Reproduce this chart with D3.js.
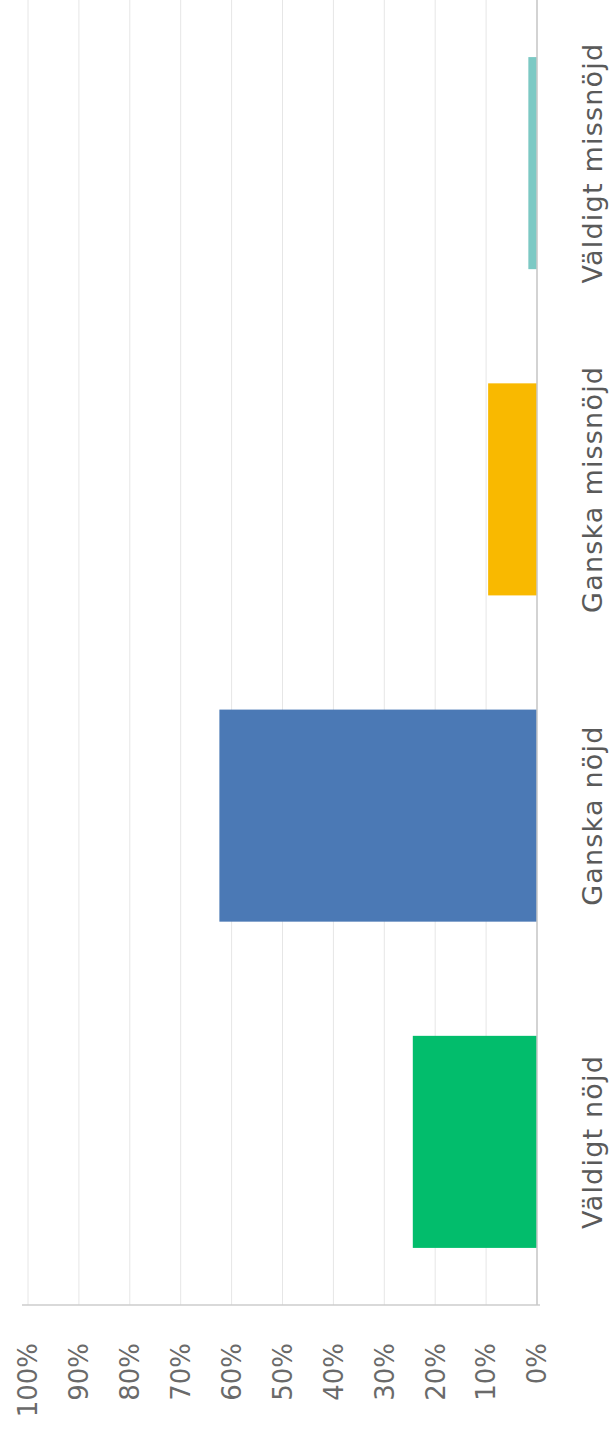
<!DOCTYPE html>
<html>
<head>
<meta charset="utf-8">
<script src="https://cdn.jsdelivr.net/npm/d3@7"></script>
<style>
  html, body { margin: 0; padding: 0; background: #fff; }
  svg { display: block; }
</style>
</head>
<body>
<script>
const categories = ["Väldigt nöjd", "Ganska nöjd", "Ganska missnöjd", "Väldigt missnöjd"];
const values = [24.4, 62.4, 9.6, 1.7];
const colors = ["#02bd6c", "#4b79b5", "#f9b900", "#7cc9c4"];
const tickValues = [0, 10, 20, 30, 40, 50, 60, 70, 80, 90, 100];
const tickLabels = ["0%", "10%", "20%", "30%", "40%", "50%", "60%", "70%", "80%", "90%", "100%"];

const W = 610, H = 1436;
// chart is drawn in its natural (unrotated) frame: width H, height W
const svg = d3.select("body").append("svg").attr("width", W).attr("height", H);
const g = svg.append("g").attr("transform", `translate(0,${H}) rotate(-90)`);

const plotLeft = 131, plotRight = H, plotTop = 28, plotBottom = 537;

const x = d3.scaleBand().domain(categories).range([plotLeft, plotRight])
  .paddingInner(0.35).paddingOuter(0.175);
const y = d3.scaleLinear().domain([0, 100]).range([plotBottom, plotTop]);

// gridlines
g.append("g").selectAll("line").data(tickValues).join("line")
  .attr("x1", plotLeft).attr("x2", plotRight)
  .attr("y1", d => y(d)).attr("y2", d => y(d))
  .attr("stroke", "#e6e6e6").attr("stroke-width", 1);

// bars
g.append("g").selectAll("rect").data(categories).join("rect")
  .attr("x", d => x(d))
  .attr("width", x.bandwidth())
  .attr("y", (d, i) => y(values[i]))
  .attr("height", (d, i) => y(0) - y(values[i]))
  .attr("fill", (d, i) => colors[i]);

// value axis line (left in natural frame)
g.append("line").attr("x1", plotLeft).attr("x2", plotLeft)
  .attr("y1", plotTop - 6).attr("y2", plotBottom + 3)
  .attr("stroke", "#cccccc").attr("stroke-width", 1.5);
// baseline
g.append("line").attr("x1", plotLeft).attr("x2", plotRight)
  .attr("y1", y(0)).attr("y2", y(0))
  .attr("stroke", "#c8c8c8").attr("stroke-width", 1.5);

// tick labels
g.append("g").selectAll("text").data(tickValues).join("text")
  .attr("x", 93).attr("y", d => y(d)).attr("dy", "0.36em")
  .attr("text-anchor", "end")
  .attr("font-family", "DejaVu Sans, sans-serif")
  .attr("font-size", 26)
  .attr("fill", "#6a6a6a")
  .text((d, i) => tickLabels[i]);

// category labels
g.append("g").selectAll("text").data(categories).join("text")
  .attr("x", d => x(d) + x.bandwidth() / 2)
  .attr("y", 602)
  .attr("text-anchor", "middle")
  .attr("font-family", "DejaVu Sans, sans-serif")
  .attr("font-size", 27)
  .attr("letter-spacing", 1.2)
  .attr("fill", "#5a5a5a")
  .text(d => d);
</script>
</body>
</html>
